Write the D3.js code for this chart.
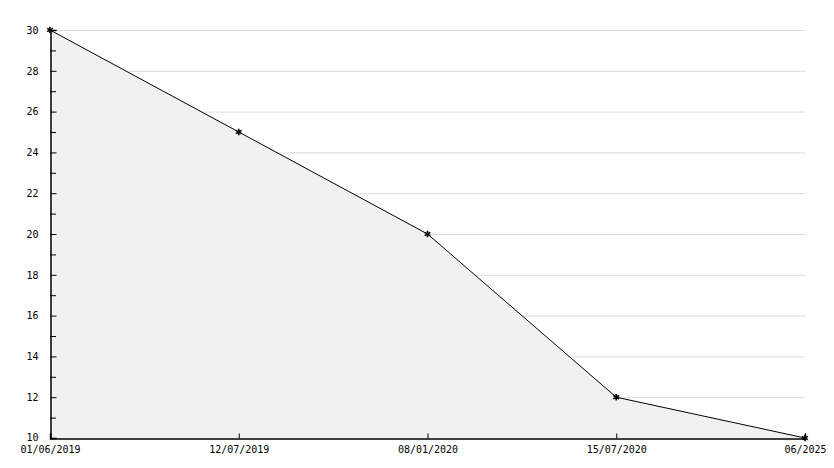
<!DOCTYPE html>
<html><head><meta charset="utf-8">
<script src="https://cdn.jsdelivr.net/npm/d3@7"></script>
<style>body{margin:0;background:#fff}svg{display:block}text{font-family:"DejaVu Sans Mono",monospace;font-size:10px;fill:#000}</style>
</head><body>
<script>
const categories = ["01/06/2019","12/07/2019","08/01/2020","15/07/2020","06/2025"];
const values = [30, 25, 20, 12, 10];
const yTicks = [10,12,14,16,18,20,22,24,26,28,30];
const yMinor = [11,13,15,17,19,21,23,25,27,29];

const W = 834, H = 468;
const m = {l:50, r:29, t:30, b:30};
const svg = d3.select("body").append("svg").attr("width",W).attr("height",H);
const x = d3.scalePoint().domain(categories).range([m.l, W-m.r]);
const y = d3.scaleLinear().domain([10,30]).range([H-m.b, m.t]);

// grid
svg.append("g").selectAll("line").data(yTicks.filter(d=>d>10)).join("line")
  .attr("x1",m.l).attr("x2",W-m.r).attr("y1",d=>y(d)+0.5).attr("y2",d=>y(d)+0.5)
  .attr("stroke","#dcdcdc").attr("stroke-width",1);

// area
const pts = categories.map((c,i)=>[x(c), y(values[i])]);
svg.append("path").datum(pts)
  .attr("d", d3.area().x(d=>d[0]).y0(y(10)).y1(d=>d[1]))
  .attr("fill","#f1f1f1");
svg.append("path").datum(pts)
  .attr("d", d3.line())
  .attr("fill","none").attr("stroke","#000").attr("stroke-width",1);

// y axis
const ya = svg.append("g").attr("transform",`translate(${m.l+0.5},0)`)
  .call(d3.axisLeft(y).tickValues(yTicks).tickSize(-6).tickPadding(12).tickFormat(d3.format("d")));
ya.select(".domain").attr("stroke","#000").attr("stroke-width",1.5);
ya.selectAll("text").style("font-family",'"DejaVu Sans Mono",monospace').style("font-size","10px");
ya.selectAll(".tick text").filter(d=>d===10).attr("dy","0.2em");
svg.append("g").selectAll("line").data(yMinor).join("line")
  .attr("x1",m.l).attr("x2",m.l+6).attr("y1",d=>y(d)+0.5).attr("y2",d=>y(d)+0.5).attr("stroke","#000");

// x axis
const xa = svg.append("g").attr("transform",`translate(0,${y(10)+0.5})`)
  .call(d3.axisBottom(x).tickSize(-5).tickPadding(7));
xa.select(".domain").attr("stroke","#000").attr("stroke-width",1.5);
xa.selectAll("text").style("font-family",'"DejaVu Sans Mono",monospace').style("font-size","10px");

// markers
svg.append("g").selectAll("path").data(pts).join("path")
  .attr("transform",d=>`translate(${d[0]},${d[1]})`)
  .attr("d", d3.symbol(d3.symbolAsterisk, 30))
  .attr("stroke","#000").attr("stroke-width",1.6).attr("fill","#000");
</script>
</body></html>
